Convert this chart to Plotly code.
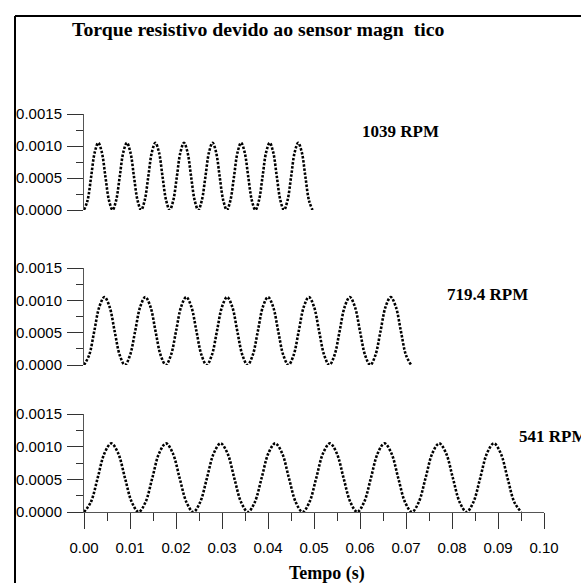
import plotly.graph_objects as go

# ---- data ----
# one cycle of the torque waveform (N·m), sampled at 1/8 of a period
cycle_profile = [0.0, 0.00015, 0.00052, 0.00090, 0.00105, 0.00090, 0.00052, 0.00015]
labels = ["1039 RPM", "719.4 RPM", "541 RPM"]
periods = [0.00621, 0.00889, 0.01188]   # seconds per cycle
n_cycles = [8, 8, 8]

y_tickvals = [0.0, 0.0005, 0.0010, 0.0015]
y_ticktext = ["0.0000", "0.0005", "0.0010", "0.0015"]
x_tickvals = [0.00, 0.01, 0.02, 0.03, 0.04, 0.05, 0.06, 0.07, 0.08, 0.09, 0.10]
x_ticktext = ["0.00", "0.01", "0.02", "0.03", "0.04", "0.05", "0.06", "0.07", "0.08", "0.09", "0.10"]

title_text = "<b>Torque resistivo devido ao sensor magn\u00a0 tico</b>"
xlabel_text = "<b>Tempo (s)</b>"

W, H = 581, 583
def px(x):
    return x / W
def py(y):
    return 1 - y / H

def build_series(period, n):
    t, v = [], []
    m = len(cycle_profile)
    for c in range(n):
        for k, val in enumerate(cycle_profile):
            t.append((c + k / m) * period)
            v.append(val)
    t.append(n * period)
    v.append(cycle_profile[0])
    return t, v

fig = go.Figure()

# panel order: top (axis 3), middle (axis 2), bottom (axis 1)
axis_ids = ["3", "2", ""]
domains_px = [(114, 210), (268, 365), (414, 512)]

for lab, per, n, aid in zip(labels, periods, n_cycles, axis_ids):
    t, v = build_series(per, n)
    fig.add_trace(go.Scatter(
        x=t, y=v, mode="lines",
        line=dict(color="black", width=2.6, dash="2.5px,1.6px", shape="spline", smoothing=1.0),
        xaxis="x" + aid, yaxis="y" + aid, cliponaxis=False, showlegend=False,
        hoverinfo="skip"))

tick_font = dict(family="Arial, Liberation Sans, sans-serif", size=15, color="black")
xdom = [px(84), px(544)]

layout = dict(
    template="none",
    width=W, height=H,
    margin=dict(l=0, r=0, t=0, b=0, pad=0),
    paper_bgcolor="white", plot_bgcolor="white",
    showlegend=False,
)

for aid, (ytop, ybot) in zip(axis_ids, domains_px):
    show_x = (aid == "")
    layout["xaxis" + aid] = dict(
        domain=xdom, range=[0, 0.10], anchor="y" + aid,
        visible=show_x, automargin=False,
        tickmode="array", tickvals=x_tickvals, ticktext=x_ticktext,
        ticks="outside", ticklen=16, tickwidth=1, tickcolor="#333",
        showline=True, linecolor="#555", linewidth=1,
        showgrid=False, zeroline=False, tickfont=tick_font,
        ticklabelstandoff=6,
        minor=dict(dtick=0.005, tick0=0, ticks="outside", ticklen=8, tickcolor="#333", showgrid=False),
    )
    layout["yaxis" + aid] = dict(
        domain=[py(ybot), py(ytop)], range=[0, 0.0015], anchor="x" + aid,
        automargin=False,
        tickmode="array", tickvals=y_tickvals, ticktext=y_ticktext,
        ticks="outside", ticklen=16, tickwidth=1, tickcolor="#333",
        showline=True, linecolor="#555", linewidth=1,
        showgrid=False, zeroline=False, tickfont=tick_font,
        ticklabelstandoff=2,
        minor=dict(dtick=0.00025, tick0=0, ticks="outside", ticklen=7, tickcolor="#333", showgrid=False),
    )

serif = dict(family="Liberation Serif, Times New Roman, serif", color="black")
layout["annotations"] = [
    dict(text=title_text, x=px(258), y=py(29), xref="paper", yref="paper",
         showarrow=False, xanchor="center", yanchor="middle", font=dict(size=19.8, **serif)),
    dict(text="<b>" + labels[0] + "</b>", x=px(400), y=py(131), xref="paper", yref="paper",
         showarrow=False, xanchor="center", yanchor="middle", font=dict(size=17, **serif)),
    dict(text="<b>" + labels[1] + "</b>", x=px(487), y=py(294), xref="paper", yref="paper",
         showarrow=False, xanchor="center", yanchor="middle", font=dict(size=17, **serif)),
    dict(text="<b>" + labels[2] + "</b>", x=px(517), y=py(436), xref="paper", yref="paper",
         showarrow=False, xanchor="left", yanchor="middle", font=dict(size=17, **serif)),
    dict(text=xlabel_text, x=px(327), y=py(573), xref="paper", yref="paper",
         showarrow=False, xanchor="center", yanchor="middle", font=dict(size=18, **serif)),
]

layout["shapes"] = [
    dict(type="line", xref="paper", yref="paper", x0=px(15), x1=1.0, y0=py(16), y1=py(16),
         line=dict(color="black", width=2), layer="above"),
    dict(type="line", xref="paper", yref="paper", x0=px(15), x1=px(15), y0=py(16), y1=0.0,
         line=dict(color="black", width=2), layer="above"),
]

fig.update_layout(**layout)
fig.write_html(
    "out.html",
    config={"displayModeBar": False, "staticPlot": True},
    post_script="document.body.style.margin='0';document.body.style.overflow='hidden';",
)
